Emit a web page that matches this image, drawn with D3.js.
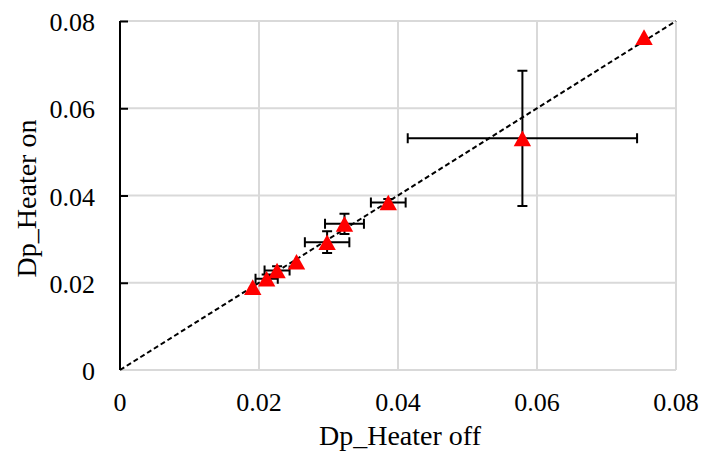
<!DOCTYPE html>
<html>
<head>
<meta charset="utf-8">
<script src="https://cdn.jsdelivr.net/npm/d3@7"></script>
<style>
  body { margin: 0; background: #fff; }
  text { font-family: "Liberation Serif", "Times New Roman", serif; fill: #000; }
</style>
</head>
<body>
<div class="chart"></div>
<script>
// data
var xVals = [0.0191, 0.0211, 0.0226, 0.0254, 0.0298, 0.0323, 0.0386, 0.0579, 0.0754];
var yVals = [0.0190, 0.0209, 0.0228, 0.0248, 0.0293, 0.0335, 0.0384, 0.0531, 0.0763];
var xErr  = [0, 0.0016, 0.0018, 0, 0.0032, 0.0028, 0.0025, 0.0165, 0];
var yErr  = [0, 0.0010, 0.0010, 0, 0.0025, 0.0023, 0.0008, 0.0155, 0];
var tickVals = [0, 0.02, 0.04, 0.06, 0.08];
var tickLabels = ["0", "0.02", "0.04", "0.06", "0.08"];
var xTitle = "Dp_Heater off", yTitle = "Dp_Heater on";

var W = 704, H = 459;
var margin = {top: 21, right: 28, bottom: 89, left: 120},
    width = W - margin.left - margin.right,
    height = H - margin.top - margin.bottom;

var svg = d3.select(".chart").append("svg")
    .attr("width", W)
    .attr("height", H)
  .append("g")
    .attr("transform", "translate(" + margin.left + "," + margin.top + ")");

var x = d3.scaleLinear().domain([0, 0.08]).range([0, width]);
var y = d3.scaleLinear().domain([0, 0.08]).range([height, 0]);

var pts = xVals.map(function(d, i) {
  return {x: d, y: yVals[i], ex: xErr[i], ey: yErr[i]};
});

// gridlines
svg.selectAll(".vgrid").data(tickVals.slice(1)).enter()
  .append("line")
    .attr("x1", function(d) { return x(d); }).attr("x2", function(d) { return x(d); })
    .attr("y1", 0).attr("y2", height)
    .attr("stroke", "#d9d9d9").attr("stroke-width", 2);
svg.selectAll(".hgrid").data(tickVals).enter()
  .append("line")
    .attr("x1", 0).attr("x2", width)
    .attr("y1", function(d) { return y(d); }).attr("y2", function(d) { return y(d); })
    .attr("stroke", "#d9d9d9").attr("stroke-width", 2);

// y axis (black, inner ticks)
var yAxis = svg.append("g")
    .call(d3.axisRight(y).tickValues(tickVals.slice(1)).tickSize(8).tickFormat(""));
yAxis.select(".domain").attr("d", "M0," + y(0.08) + "V" + y(0)).attr("stroke", "#000").attr("stroke-width", 2);
yAxis.selectAll(".tick line").attr("stroke", "#000").attr("stroke-width", 2);

// tick labels
svg.selectAll(".xlab").data(tickVals).enter()
  .append("text")
    .attr("x", function(d) { return x(d); })
    .attr("y", height + 41)
    .attr("text-anchor", "middle")
    .style("font-size", "26px")
    .text(function(d, i) { return tickLabels[i]; });
svg.selectAll(".ylab").data(tickVals).enter()
  .append("text")
    .attr("x", -25)
    .attr("y", function(d) { return y(d) + 10; })
    .attr("text-anchor", "end")
    .style("font-size", "26px")
    .text(function(d, i) { return tickLabels[i]; });

// axis titles
svg.append("text")
    .attr("x", width / 2 + 2)
    .attr("y", height + 75)
    .attr("text-anchor", "middle")
    .style("font-size", "28px")
    .text(xTitle);
svg.append("text")
    .attr("transform", "translate(" + (-84) + "," + (height / 2 + 3) + ") rotate(-90)")
    .attr("text-anchor", "middle")
    .style("font-size", "28px")
    .text(yTitle);

// 1:1 dashed line
var valueline = d3.line()
    .x(function(d) { return x(d[0]); })
    .y(function(d) { return y(d[1]); });
svg.append("path")
    .datum([[0, 0], [0.08, 0.08]])
    .attr("d", valueline)
    .attr("fill", "none")
    .attr("stroke", "#000")
    .attr("stroke-width", 2)
    .attr("stroke-dasharray", "5,3");

// error bars
var cap = 5;
var eb = svg.selectAll(".err").data(pts.filter(function(d) { return d.ex > 0 || d.ey > 0; })).enter()
  .append("g").attr("class", "err");
eb.append("path")
    .attr("d", function(d) {
      var x0 = x(d.x - d.ex), x1 = x(d.x + d.ex), yc = y(d.y);
      return "M" + x0 + "," + yc + "H" + x1 +
             "M" + x0 + "," + (yc - cap) + "V" + (yc + cap) +
             "M" + x1 + "," + (yc - cap) + "V" + (yc + cap);
    });
eb.append("path")
    .attr("d", function(d) {
      var y0 = y(d.y - d.ey), y1 = y(d.y + d.ey), xc = x(d.x);
      return "M" + xc + "," + y0 + "V" + y1 +
             "M" + (xc - cap) + "," + y0 + "H" + (xc + cap) +
             "M" + (xc - cap) + "," + y1 + "H" + (xc + cap);
    });
eb.selectAll("path").attr("fill", "none").attr("stroke", "#000").attr("stroke-width", 2);

// triangle markers
svg.selectAll(".pt").data(pts).enter()
  .append("path")
    .attr("class", "pt")
    .attr("d", function(d) {
      var cx = x(d.x), cy = y(d.y);
      return "M" + (cx - 8.7) + "," + (cy + 7.8) + "L" + (cx + 8.7) + "," + (cy + 7.8) +
             "L" + cx + "," + (cy - 7.8) + "Z";
    })
    .attr("fill", "#ff0000");
</script>
</body>
</html>
